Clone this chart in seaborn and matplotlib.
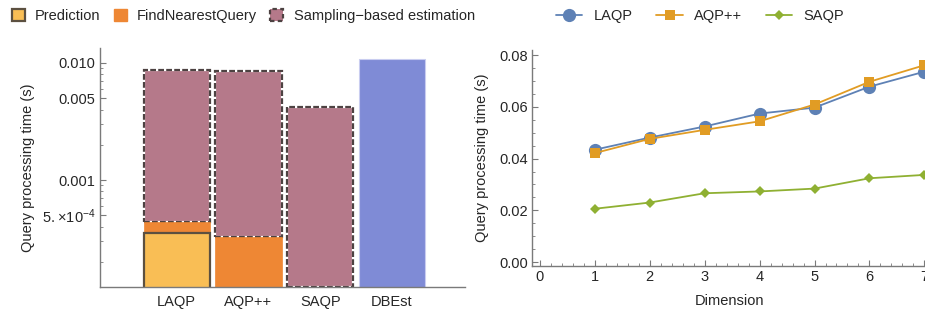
import numpy as np
import pandas as pd
import matplotlib.pyplot as plt
import seaborn as sns
from matplotlib.patches import Patch
from matplotlib.lines import Line2D
from matplotlib.ticker import FixedLocator, LogLocator, NullFormatter, MultipleLocator

# ---- data: stacked bar panel (seconds) ----
methods = ["LAQP", "AQP++", "SAQP", "DBEst"]
prediction = [3.54e-4, 0.0, 0.0, 0.0]
find_nearest = [0.82e-4, 3.27e-4, 0.0, 0.0]
sampling = [8.33e-3, 8.26e-3, 4.17e-3, 0.0]
dbest = [0.0, 0.0, 0.0, 1.07e-2]

# ---- data: dimension panel (seconds) ----
dims = [1, 2, 3, 4, 5, 6, 7]
laqp_t = [0.0434, 0.0481, 0.0524, 0.0574, 0.0597, 0.0678, 0.0736]
aqpp_t = [0.0421, 0.0476, 0.0511, 0.0544, 0.0609, 0.0697, 0.0761]
saqp_t = [0.0206, 0.0230, 0.0266, 0.0273, 0.0284, 0.0324, 0.0337]

sns.set_theme(style="white")
plt.rcParams["font.family"] = ["Liberation Sans", "DejaVu Sans"]
plt.rcParams["mathtext.fontset"] = "custom"
plt.rcParams["mathtext.rm"] = "Liberation Sans"
plt.rcParams["mathtext.it"] = "Liberation Sans:italic"
FS = 10.5

c_pred, c_fnq, c_samp, c_dbe = "#F9BE55", "#EE8734", "#B5798A", "#7F8BD6"
edge_dark = "#4d4242"
axis_col = "#7a7a7a"

fig = plt.figure(figsize=(9.25, 3.14), dpi=100)
ax1 = fig.add_axes([0.108, 0.086, 0.395, 0.761])
ax2 = fig.add_axes([0.575, 0.153, 0.428, 0.688])

# ---- left: stacked bars on log axis ----
pred_top = np.array(prediction)
fnq_top = pred_top + np.array(find_nearest)
samp_top = fnq_top + np.array(sampling)
ymin, ymax = 1.22e-4, 1.34e-2

df = pd.DataFrame({"method": methods, "pred": pred_top, "fnq": fnq_top,
                   "samp": samp_top, "dbest": dbest})
W = 0.92

def layer(col, **kw):
    n0 = len(ax1.patches)
    sns.barplot(data=df, x="method", y=col, order=methods, width=W, ax=ax1,
                errorbar=None, saturation=1, **kw)
    return ax1.patches[n0:]

ax1.set_yscale("log")
# sampling segment: white outline underneath, then dashed dark outline
base = np.where(fnq_top > 0, fnq_top, ymin)
for kw in [dict(color=c_samp, edgecolor="white", linewidth=1.6),
           dict(fill=False, edgecolor=edge_dark, linewidth=1.6, linestyle=(0, (2.6, 1.0)))]:
    ps = layer("samp", **kw)
    for p, b, t in zip(ps, base, samp_top):
        if t > 0:
            p.set_y(b)
            p.set_height(t - b)
        else:
            p.set_visible(False)

ps = layer("fnq", color=c_fnq, edgecolor=c_fnq, linewidth=0.5)
for p, v in zip(ps, fnq_top):
    p.set_visible(v > 0)
ps = layer("pred", color=c_pred, edgecolor="#5c5040", linewidth=1.6)
for p, v in zip(ps, pred_top):
    p.set_visible(v > 0)
ps = layer("dbest", color=c_dbe, edgecolor="#c9cdf0", linewidth=0.8)
for p, v in zip(ps, dbest):
    p.set_visible(v > 0)

ax1.set_ylim(ymin, ymax)
ax1.set_xlim(-1.07, 4.02)
ax1.yaxis.set_major_locator(FixedLocator([5e-4, 1e-3, 5e-3, 1e-2]))
ax1.set_yticklabels([r"$5.\!\times\!10^{-4}$", "0.001", "0.005", "0.010"])
ax1.yaxis.set_minor_locator(LogLocator(base=10, subs=np.arange(2, 10)))
ax1.yaxis.set_minor_formatter(NullFormatter())
ax1.set_xlabel("")
ax1.set_ylabel("Query processing time (s)", fontsize=FS, labelpad=5)

# ---- right: lines vs dimension ----
series = [("LAQP", laqp_t, "#5E81B5", "o", 9.5),
          ("AQP++", aqpp_t, "#E19C24", "s", 6.5),
          ("SAQP", saqp_t, "#8FB032", "D", 5.5)]
handles = []
for name, vals, col, mk, ms in series:
    sns.lineplot(x=dims, y=vals, ax=ax2, color=col, marker=mk, markersize=ms,
                 markeredgewidth=0, linewidth=1.3, clip_on=False, zorder=3)
    handles.append(Line2D([], [], color=col, marker=mk, markersize=ms,
                          markeredgewidth=0, linewidth=1.3, label=name))

ax2.set_xlim(-0.14, 7.06)
ax2.set_ylim(-0.0015, 0.082)
ax2.set_xticks(range(0, 8))
ax2.set_yticks([0.0, 0.02, 0.04, 0.06, 0.08])
ax2.set_yticklabels(["0.00", "0.02", "0.04", "0.06", "0.08"])
ax2.xaxis.set_minor_locator(MultipleLocator(0.2))
ax2.yaxis.set_minor_locator(MultipleLocator(0.005))
ax2.set_xlabel("Dimension", fontsize=FS, labelpad=7)
ax2.set_ylabel("Query processing time (s)", fontsize=FS, labelpad=7)

for ax in (ax1, ax2):
    for s in ("top", "right"):
        ax.spines[s].set_visible(False)
    for s in ("left", "bottom"):
        ax.spines[s].set_color(axis_col)
        ax.spines[s].set_linewidth(1.0)
    ax.tick_params(axis="both", which="major", direction="in", length=4,
                   width=0.8, color=axis_col, labelsize=FS, pad=3,
                   left=True, bottom=True)
    ax.tick_params(axis="both", which="minor", direction="in", length=2.2,
                   width=0.6, color=axis_col, left=True, bottom=True)
ax1.tick_params(axis="x", which="major", length=2, pad=6)
ax1.tick_params(axis="x", which="minor", bottom=False)

# ---- legends ----
leg_handles = [
    Patch(facecolor=c_pred, edgecolor="#5c5040", linewidth=1.6, label="Prediction"),
    Patch(facecolor=c_fnq, edgecolor=c_fnq, label="FindNearestQuery"),
    Patch(facecolor=c_samp, edgecolor=edge_dark, linewidth=1.6, linestyle=(0, (2, 1.5)),
          label="Sampling\u2212based estimation"),
]
fig.legend(handles=leg_handles, loc="center left", bbox_to_anchor=(0.0, 0.95),
           ncol=3, frameon=False, fontsize=FS, handlelength=0.9, handleheight=0.9,
           handletextpad=0.7, columnspacing=0.9, borderaxespad=0.4)
fig.legend(handles=handles, loc="center", bbox_to_anchor=(0.757, 0.95), ncol=3,
           frameon=False, fontsize=FS, handlelength=1.8, handletextpad=0.8,
           columnspacing=1.6)

fig.savefig("out.png", dpi=100)
